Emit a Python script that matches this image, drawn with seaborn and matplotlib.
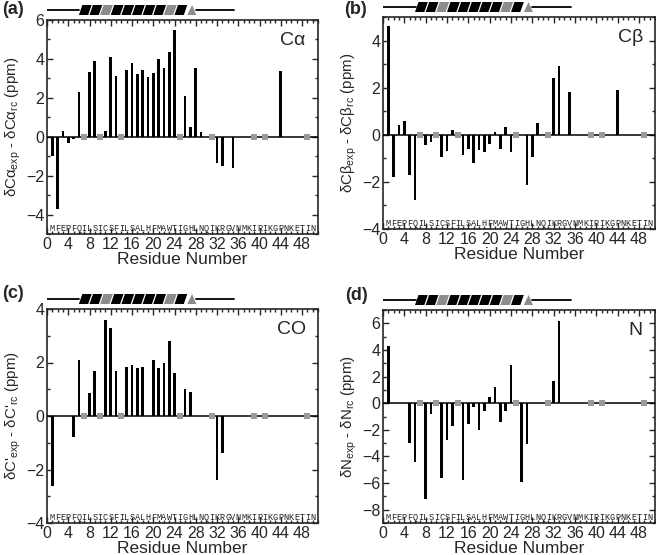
import matplotlib
matplotlib.use("Agg")
import pandas as pd
import matplotlib.pyplot as plt
from matplotlib.patches import Polygon
from matplotlib.ticker import MultipleLocator
import seaborn as sns

# Sequence and unassigned (isoleucine) residues
sequence = "MFEPFQILSICSFILSALHFMAWTIGHLNQIKRGVNMKIRIKGPNKETIN"
unassigned = [7, 10, 14, 25, 31, 39, 41, 49]

# Secondary chemical shifts (ppm)
ca_res = [1, 2, 3, 4, 5, 6, 8, 9, 11, 12, 13, 15, 16, 17, 18, 19, 20, 21, 22, 23, 24,
          26, 27, 28, 29, 32, 33, 35, 44]
ca_val = [-1.0, -3.7, 0.3, -0.3, -0.1, 2.3, 3.35, 3.9, 0.3, 4.1, 3.1, 3.45, 3.8, 3.25,
          3.45, 3.05, 3.3, 4.0, 3.55, 4.35, 5.5, 2.1, 0.5, 3.55, 0.25, -1.35, -1.5, -1.6, 3.4]

cb_res = [1, 2, 3, 4, 5, 6, 8, 9, 11, 12, 13, 15, 16, 17, 18, 19, 20, 21, 22, 23, 24,
          27, 28, 29, 32, 33, 35, 44]
cb_val = [4.6, -1.8, 0.4, 0.6, -1.7, -2.75, -0.45, -0.3, -0.95, -0.7, 0.2, -0.85, -0.6,
          -1.2, -0.65, -0.75, -0.4, 0.1, -0.6, 0.35, -0.75, -2.15, -0.95, 0.5, 2.4, 2.9,
          1.8, 1.9]

co_res = [1, 5, 6, 8, 9, 11, 12, 13, 15, 16, 17, 18, 20, 21, 22, 23, 24, 26, 27, 32, 33]
co_val = [-2.6, -0.8, 2.1, 0.85, 1.7, 3.6, 3.3, 1.7, 1.85, 1.9, 1.8, 1.85, 2.1, 1.8, 2.0,
          2.8, 1.6, 1.0, 0.9, -2.4, -1.4]

n_res = [1, 5, 6, 8, 9, 11, 12, 13, 15, 16, 17, 18, 19, 20, 21, 22, 23, 24, 26, 27, 32, 33]
n_val = [4.3, -3.0, -4.45, -7.2, -0.8, -5.6, -2.8, -1.75, -5.75, -1.6, -0.25, -2.0, -0.55,
         0.45, 1.25, -1.4, -0.55, 2.9, -5.95, -3.1, 1.65, 6.2]

sns.set_style("ticks")
plt.rcParams["font.family"] = ["Liberation Sans", "DejaVu Sans"]
plt.rcParams["mathtext.default"] = "regular"

W, H = 656, 555
fig = plt.figure(figsize=(W / 100, H / 100), dpi=100)

panels = [
    dict(tag="(a)", res=ca_res, val=ca_val, nuc="Cα", ylim=(-5, 6),
         ylabel="δCα$_{exp}$ - δCα$_{rc}$ (ppm)", box=(47, 20, 271, 214), tagpos=(2, 10)),
    dict(tag="(b)", res=cb_res, val=cb_val, nuc="Cβ", ylim=(-4, 5),
         ylabel="δCβ$_{exp}$ - δCβ$_{rc}$ (ppm)", box=(383, 17, 272, 212), tagpos=(344, 9)),
    dict(tag="(c)", res=co_res, val=co_val, nuc="CO", ylim=(-4, 4),
         ylabel="δC'$_{exp}$ - δC'$_{rc}$ (ppm)", box=(47, 309, 271, 214), tagpos=(2, 294)),
    dict(tag="(d)", res=n_res, val=n_val, nuc="N", ylim=(-9, 7),
         ylabel="δN$_{exp}$ - δN$_{rc}$ (ppm)", box=(383, 310, 272, 213), tagpos=(345, 296)),
]

helix_colors = ["black", "black", "#8c8c8c", "black", "black", "black", "black",
                "black", "#8c8c8c", "black"]

for p in panels:
    x0, y0, w, h = p["box"]
    ax = fig.add_axes([x0 / W, 1 - (y0 + h) / H, w / W, h / H])
    df = pd.DataFrame({"Residue": p["res"], "Shift": p["val"]})
    sns.barplot(data=df, x="Residue", y="Shift", native_scale=True, color="black",
                width=0.5, errorbar=None, saturation=1, linewidth=0, ax=ax, zorder=2)
    ax.axhline(0, color="black", lw=1.1, zorder=3)
    sns.scatterplot(x=unassigned, y=[0] * len(unassigned), marker="s", s=16,
                    color="#9a9a9a", linewidth=0, ax=ax, zorder=4)

    ax.set_xlim(0, 51)
    ax.set_ylim(*p["ylim"])
    ax.xaxis.set_major_locator(MultipleLocator(4))
    ax.xaxis.set_minor_locator(MultipleLocator(1))
    ax.yaxis.set_major_locator(MultipleLocator(2))
    ax.yaxis.set_minor_locator(MultipleLocator(1))
    ax.tick_params(which="both", direction="in", top=True, right=True, width=1,
                   labelsize=11.5, pad=2)
    ax.tick_params(which="major", length=4)
    ax.tick_params(which="minor", length=2)
    for s in ax.spines.values():
        s.set_linewidth(1.2)
    ax.set_xlabel("Residue Number", fontsize=12.5, labelpad=0)
    ax.set_ylabel(p["ylabel"], fontsize=10.8, labelpad=2)

    # sequence along the bottom
    for i, aa in enumerate(sequence):
        ax.text(i + 1, 0.028, aa, transform=ax.get_xaxis_transform(), ha="center",
                va="center", fontsize=6.2, family="Liberation Mono", color="#222222")

    ax.text(0.955, 0.905, p["nuc"], transform=ax.transAxes, ha="right", va="center",
            fontsize=14)
    fig.text(p["tagpos"][0] / W, 1 - p["tagpos"][1] / H, p["tag"], ha="left",
             va="center", fontsize=13, fontweight="bold")

    # secondary structure cartoon above the panel
    tax = fig.add_axes([x0 / W, 1 - (y0 - 5) / H, w / W, 10 / H])
    tax.set_xlim(0, 51)
    tax.set_ylim(0, 1)
    tax.axis("off")
    tax.plot([0, 6.1], [0.5, 0.5], color="black", lw=1.3)
    tax.plot([28.0, 35.2], [0.5, 0.5], color="black", lw=1.3)
    for k, c in enumerate(helix_colors):
        hx = 6.0 + 2.0 * k
        tax.add_patch(Polygon([(hx, 0), (hx + 1.75, 0), (hx + 2.4, 1), (hx + 0.65, 1)],
                              closed=True, facecolor=c, edgecolor="none"))
    tax.add_patch(Polygon([(26.4, 0), (28.1, 0), (27.3, 1)], closed=True,
                          facecolor="#8c8c8c", edgecolor="none"))

fig.savefig("out.png", dpi=100)
